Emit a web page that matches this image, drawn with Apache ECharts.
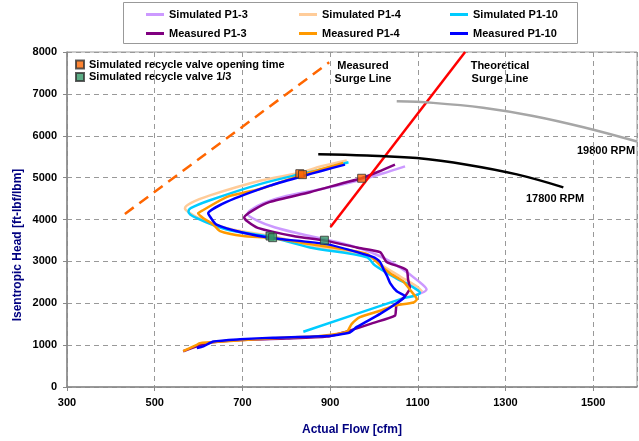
<!DOCTYPE html>
<html>
<head>
<meta charset="utf-8">
<script src="https://cdn.jsdelivr.net/npm/echarts@6/dist/echarts.min.js"></script>
<style>
html, body { margin: 0; padding: 0; background: #fff; }
#chart { width: 639px; height: 441px; }
</style>
</head>
<body>
<div id="chart"></div>
<script>
// axis ticks
var xTicks = [300, 500, 700, 900, 1100, 1300, 1500];
var yTicks = [0, 1000, 2000, 3000, 4000, 5000, 6000, 7000, 8000];

// flow [cfm], head [ft-lbf/lbm] pairs
var simP13 = [[1071,5270],[1020,5100],[960,4920],[880,4730],[800,4560],[748,4390],[720,4230],[712,4130],[735,3970],[775,3810],[831,3660],[887,3530],[950,3370],[1010,3140],[1060,2850],[1100,2540],[1120,2330],[1096,2200]];
var simP14 = [[938,5412],[880,5270],[831,5117],[740,4924],[626,4575],[582,4390],[569,4264],[576,4187],[600,4040],[670,3780],[770,3600],[860,3370],[990,3130],[1012,2950],[1060,2640],[1098,2400],[1110,2280]];
var simP110 = [[942,5366],[890,5220],[831,5080],[740,4845],[626,4459],[582,4270],[577,4187],[596,4031],[664,3761],[763,3582],[854,3333],[984,3100],[1002,2907],[1050,2600],[1090,2380],[1105,2249],[1059,2093],[839,1319]];
var measP13 = [[1048,5310],[1010,5140],[972,4985],[930,4870],[854,4650],[763,4420],[725,4225],[704,4050],[712,3950],[735,3800],[816,3605],[892,3490],[961,3330],[1014,3220],[1029,2985],[1060,2870],[1075,2790],[1078,2560],[1082,2370],[1071,2170],[1052,1977],[1050,1820],[1048,1705],[999,1530],[945,1345],[892,1203],[800,1160],[695,1125],[619,1047],[565,854]];
var measP14 = [[930,5350],[880,5200],[839,5078],[740,4730],[664,4536],[611,4226],[599,4147],[611,4031],[634,3877],[649,3722],[702,3605],[763,3566],[854,3412],[984,3179],[1014,2907],[1037,2714],[1067,2519],[1082,2326],[1098,2093],[1090,2016],[1044,1938],[1014,1821],[968,1667],[949,1500],[938,1319],[877,1216],[770,1163],[656,1086],[603,1047],[596,1008],[565,854]];
var measP110 = [[934,5310],[880,5160],[839,5040],[763,4808],[664,4419],[622,4147],[626,4071],[641,3877],[702,3682],[770,3552],[892,3412],[999,3101],[1014,2985],[1021,2831],[1030,2650],[1037,2482],[1052,2287],[1071,2170],[1059,2054],[1014,1745],[961,1435],[945,1300],[892,1216],[770,1179],[695,1140],[634,1086],[611,970],[596,930]];

var measuredSurge = [[432,4133],[898,7753]];
var theoreticalSurge = [[901,3820],[1208,8000]];
var rpm17800 = [[873,5559],[984,5529],[1098,5466],[1212,5310],[1326,5077],[1432,4768]];
var rpm19800 = [[1052,6822],[1135,6785],[1249,6669],[1363,6473],[1478,6203],[1600,5862]];

var valveOpening = [[831,5094],[837,5071],[972,4985]];
var valveThird = [[763,3605],[769,3566],[887,3505]];

var FONT = 'Liberation Sans';

function curve(name, data, color, smooth) {
	return {
		name: name, type: 'line', data: data,
		showSymbol: false, symbol: 'none',
		smooth: smooth || false,
		lineStyle: { color: color, width: 2.5 },
		itemStyle: { color: color }
	};
}

function legendItem(name, left, top) {
	return {
		data: [name], left: left, top: top, padding: 0,
		icon: 'rect', itemWidth: 18, itemHeight: 3, itemTextGap: 3,
		textStyle: { fontFamily: FONT, fontWeight: 'bold', fontSize: 11, color: '#000' }
	};
}

var myChart = echarts.init(document.getElementById('chart'), null, { renderer: 'canvas' });

var options = {
	animation: false,
	backgroundColor: '#fff',
	grid: {
		left: 67, right: 2, top: 52, bottom: 46,
		show: true, borderColor: '#999', borderWidth: 1
	},
	legend: [
		legendItem('Simulated P1-3', 146, 9),
		legendItem('Simulated P1-4', 299, 9),
		legendItem('Simulated P1-10', 450, 9),
		legendItem('Measured P1-3', 146, 28),
		legendItem('Measured P1-4', 299, 28),
		legendItem('Measured P1-10', 450, 28),
		{
			data: ['Simulated recycle valve opening time', 'Simulated recycle valve 1/3'],
			orient: 'vertical', left: 75, top: 59, padding: 0,
			itemWidth: 8, itemHeight: 8, itemTextGap: 6, itemGap: 1.5,
			textStyle: { fontFamily: FONT, fontWeight: 'bold', fontSize: 11, color: '#000' }
		}
	],
	xAxis: {
		type: 'value', min: 300, max: 1600, interval: 200,
		name: 'Actual Flow [cfm]', nameLocation: 'middle', nameGap: 37,
		nameTextStyle: { fontFamily: FONT, fontWeight: 'bold', fontSize: 12, color: '#000080' },
		axisLine: { lineStyle: { color: '#888', width: 1.5 } },
		axisTick: { show: true, length: 4, lineStyle: { color: '#888' } },
		axisLabel: {
			margin: 10, showMaxLabel: false,
			fontFamily: FONT, fontWeight: 'bold', fontSize: 11, color: '#000',
			formatter: function(v) { return xTicks.indexOf(v) >= 0 ? String(v) : ''; }
		},
		splitLine: { show: true, lineStyle: { color: '#999', type: [5, 4], width: 1 } }
	},
	yAxis: {
		type: 'value', min: 0, max: 8000, interval: 1000,
		axisLine: { show: true, lineStyle: { color: '#888', width: 1.5 } },
		axisTick: { show: true, length: 4, lineStyle: { color: '#888' } },
		axisLabel: {
			margin: 10,
			fontFamily: FONT, fontWeight: 'bold', fontSize: 11, color: '#000',
			formatter: function(v) { return yTicks.indexOf(v) >= 0 ? String(v) : ''; }
		},
		splitLine: { show: true, lineStyle: { color: '#999', type: [5, 4], width: 1 } }
	},
	graphic: [
		{ type: 'rect', z: -1, shape: { x: 123.5, y: 2.5, width: 454, height: 41 },
		  style: { fill: '#fff', stroke: '#999', lineWidth: 1 } },
		{ type: 'text', x: 18, y: 245, rotation: Math.PI / 2,
		  style: { text: 'Isentropic Head [ft-lbf/lbm]', align: 'center', verticalAlign: 'middle',
		           font: 'bold 12px "Liberation Sans"', fill: '#000080' } },
		{ type: 'text', x: 363, y: 72,
		  style: { text: 'Measured\nSurge Line', align: 'center', verticalAlign: 'middle', lineHeight: 13,
		           font: 'bold 11px "Liberation Sans"', fill: '#000' } },
		{ type: 'text', x: 500, y: 72,
		  style: { text: 'Theoretical\nSurge Line', align: 'center', verticalAlign: 'middle', lineHeight: 13,
		           font: 'bold 11px "Liberation Sans"', fill: '#000' } },
		{ type: 'text', x: 606, y: 151,
		  style: { text: '19800 RPM', align: 'center', verticalAlign: 'middle',
		           font: 'bold 11px "Liberation Sans"', fill: '#000' } },
		{ type: 'text', x: 555, y: 199,
		  style: { text: '17800 RPM', align: 'center', verticalAlign: 'middle',
		           font: 'bold 11px "Liberation Sans"', fill: '#000' } }
	],
	series: [
		curve('Simulated P1-3', simP13, '#CC99FF', 0.3),
		curve('Simulated P1-4', simP14, '#FFCC99', 0.3),
		curve('Simulated P1-10', simP110, '#00CCFF', 0.3),
		curve('Measured P1-3', measP13, '#800080', 0.2),
		curve('Measured P1-4', measP14, '#FF9900', 0.2),
		curve('Measured P1-10', measP110, '#0000FF', 0.2),
		{
			name: 'measuredSurge', type: 'line', data: measuredSurge, symbol: 'none',
			lineStyle: { color: '#FF6600', width: 2.5, type: [11, 7] }
		},
		{
			name: 'theoreticalSurge', type: 'line', data: theoreticalSurge, symbol: 'none',
			lineStyle: { color: '#FF0000', width: 2.5 }
		},
		{
			name: 'rpm17800', type: 'line', data: rpm17800, symbol: 'none', smooth: 0.4,
			lineStyle: { color: '#000', width: 2.5 }
		},
		{
			name: 'rpm19800', type: 'line', data: rpm19800, symbol: 'none', smooth: 0.4,
			lineStyle: { color: '#A6A6A6', width: 2.5 }
		},
		{
			name: 'Simulated recycle valve opening time', type: 'scatter', data: valveOpening,
			symbol: 'rect', symbolSize: 8, z: 5,
			itemStyle: { color: '#FF6600', borderColor: '#333', borderWidth: 1 }
		},
		{
			name: 'Simulated recycle valve 1/3', type: 'scatter', data: valveThird,
			symbol: 'rect', symbolSize: 8, z: 5,
			itemStyle: { color: '#339966', borderColor: '#333', borderWidth: 1 }
		}
	]
};

myChart.setOption(options);
options = null;
</script>
</body>
</html>
